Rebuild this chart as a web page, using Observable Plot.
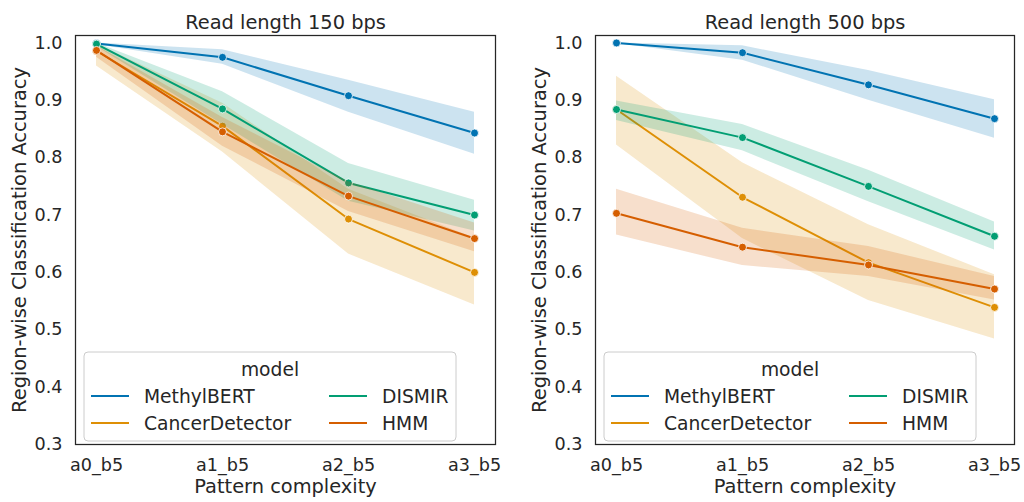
<!DOCTYPE html>
<html>
<head>
<meta charset="utf-8">
<script src="https://cdn.jsdelivr.net/npm/d3@7"></script>
<script src="https://cdn.jsdelivr.net/npm/@observablehq/plot@0.6"></script>
<style>
  html, body { margin: 0; padding: 0; background: #fff; }
  #wrap { display: flex; width: 1024px; height: 502px; }
  svg { font-family: "DejaVu Sans", sans-serif; }
</style>
</head>
<body>
<div id="wrap"></div>
<script>
const patterns = ["a0_b5", "a1_b5", "a2_b5", "a3_b5"];
const models = ["MethylBERT", "CancerDetector", "DISMIR", "HMM"];
const colors = ["#0173b2", "#de8f05", "#029e73", "#d55e00"];
const yTicks = [0.3, 0.4, 0.5, 0.6, 0.7, 0.8, 0.9, 1.0];
const titles = ["Read length 150 bps", "Read length 500 bps"];

// Read length 150 bps: mean and confidence band per model (rows follow `models`)
const mean150 = [
  [0.999, 0.975, 0.908, 0.843],
  [0.986, 0.855, 0.693, 0.600],
  [0.998, 0.885, 0.756, 0.700],
  [0.987, 0.845, 0.733, 0.659]
];
const lo150 = [
  [0.997, 0.963, 0.879, 0.806],
  [0.960, 0.810, 0.632, 0.543],
  [0.994, 0.858, 0.724, 0.672],
  [0.975, 0.820, 0.706, 0.636]
];
const hi150 = [
  [1.000, 0.988, 0.935, 0.879],
  [0.998, 0.895, 0.745, 0.660],
  [1.000, 0.915, 0.790, 0.726],
  [0.995, 0.870, 0.758, 0.686]
];

// Read length 500 bps
const mean500 = [
  [1.000, 0.983, 0.927, 0.868],
  [0.884, 0.731, 0.617, 0.539],
  [0.884, 0.835, 0.750, 0.663],
  [0.703, 0.644, 0.613, 0.571]
];
const lo500 = [
  [0.999, 0.970, 0.900, 0.834],
  [0.822, 0.659, 0.551, 0.484],
  [0.865, 0.812, 0.723, 0.639],
  [0.665, 0.612, 0.593, 0.552]
];
const hi500 = [
  [1.000, 0.995, 0.952, 0.901],
  [0.942, 0.791, 0.683, 0.596],
  [0.899, 0.858, 0.778, 0.688],
  [0.745, 0.677, 0.645, 0.593]
];

function buildRows(mean, lo, hi) {
  const rows = [];
  models.forEach((m, i) => patterns.forEach((p, j) => {
    rows.push({model: m, pattern: p, acc: mean[i][j], lo: lo[i][j], hi: hi[i][j]});
  }));
  return rows;
}

const ink = "#262626";
const TICK = "17.6px";
const LAB = "19.4px";
const LEG = 18.7;

function panel(title, rows, marginLeft, marginRight) {
  const marks = [];
  models.forEach(m => {
    const d = rows.filter(r => r.model === m);
    marks.push(Plot.areaY(d, {x: "pattern", y1: "lo", y2: "hi", fill: "model", fillOpacity: 0.2}));
    marks.push(Plot.line(d, {x: "pattern", y: "acc", stroke: "model", strokeWidth: 2}));
    marks.push(Plot.dot(d, {x: "pattern", y: "acc", fill: "model", r: 4, stroke: "white", strokeWidth: 0.8}));
  });
  const plot = Plot.plot({
    width: 512,
    height: 502,
    marginTop: 35,
    marginBottom: 58,
    marginLeft,
    marginRight,
    style: {fontFamily: "DejaVu Sans, sans-serif", fontSize: TICK, color: ink, background: "white", overflow: "visible"},
    x: {type: "point", domain: patterns, padding: 0.154},
    y: {domain: [0.3, 1.013]},
    color: {domain: models, range: colors},
    marks: [
      Plot.axisX({tickSize: 0, tickPadding: 14, label: null, fontSize: TICK}),
      Plot.axisY({ticks: yTicks, tickFormat: ".1f", tickSize: 0, tickPadding: 13, label: null, fontSize: TICK}),
      ...marks,
      Plot.frame({stroke: ink, strokeWidth: 1.25}),
      Plot.text([title], {frameAnchor: "top", dy: -13, lineAnchor: "middle", textAnchor: "middle", fontSize: LAB, fill: ink}),
      Plot.text(["Pattern complexity"], {frameAnchor: "bottom", dy: 42, lineAnchor: "middle", textAnchor: "middle", fontSize: LAB, fill: ink}),
      Plot.text(["Region-wise Classification Accuracy"], {frameAnchor: "left", dx: -56, rotate: -90, lineAnchor: "middle", textAnchor: "middle", fontSize: LAB, fill: ink})
    ]
  });

  // legend (inside frame, lower left)
  const svg = d3.select(plot);
  const color = plot.scale("color");
  const x0 = marginLeft + 9;
  const g = svg.append("g")
    .attr("font-family", "DejaVu Sans, sans-serif")
    .attr("font-size", LEG)
    .attr("fill", ink)
    .attr("text-anchor", "start");
  g.append("rect").attr("x", x0).attr("y", 352).attr("width", 372).attr("height", 89)
    .attr("rx", 4).attr("fill", "white").attr("fill-opacity", 0.8).attr("stroke", "#cccccc").attr("stroke-width", 1);
  g.append("text").attr("x", x0 + 186).attr("y", 369).attr("dy", "0.35em").attr("text-anchor", "middle").text("model");
  const cols = [0, 0, 1, 1];
  const rowsY = [396, 423];
  models.forEach((m, i) => {
    const cx = x0 + (cols[i] ? 245 : 7);
    const yy = rowsY[i % 2];
    g.append("line").attr("x1", cx).attr("x2", cx + 38).attr("y1", yy).attr("y2", yy)
      .attr("stroke", color.apply(m)).attr("stroke-width", 2);
    g.append("text").attr("x", cx + 53).attr("y", yy).attr("dy", "0.35em").attr("text-anchor", "start").text(m);
  });
  return plot;
}

const wrap = document.getElementById("wrap");
wrap.appendChild(panel(titles[0], buildRows(mean150, lo150, hi150), 75, 17));
wrap.appendChild(panel(titles[1], buildRows(mean500, lo500, hi500), 83, 10));
</script>
</body>
</html>
